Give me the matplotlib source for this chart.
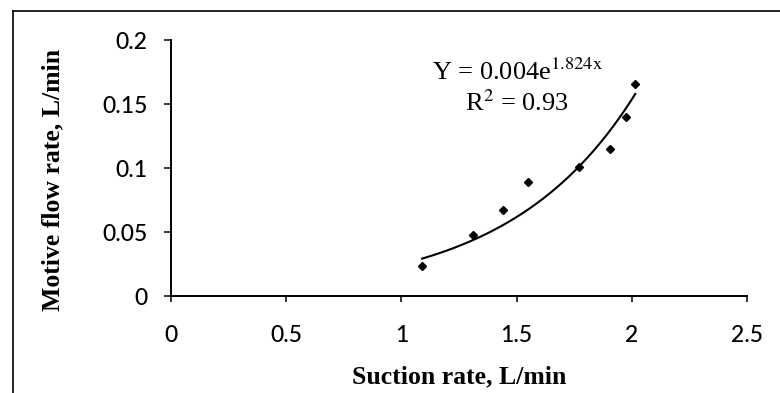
import numpy as np
import matplotlib.pyplot as plt
from matplotlib.lines import Line2D

# measured points
suction = [1.09, 1.31, 1.44, 1.55, 1.77, 1.905, 1.975, 2.015]
motive = [0.0235, 0.0475, 0.067, 0.089, 0.101, 0.115, 0.140, 0.1655]

# exponential fit Y = a*exp(b*x)
fit_a = 0.004
fit_b = 1.824
fit_r2 = 0.93

xticks = [0, 0.5, 1, 1.5, 2, 2.5]
xticklabels = ['0', '0.5', '1', '1.5', '2', '2.5']
yticks = [0, 0.05, 0.1, 0.15, 0.2]
yticklabels = ['0', '0.05', '0.1', '0.15', '0.2']

plt.rcParams['mathtext.fontset'] = 'stix'

fig = plt.figure(figsize=(7.8, 3.93), dpi=100)
ax = fig.add_axes([0.2192, 0.2468, 0.7385, 0.6514])

ax.plot(suction, motive, linestyle='none', marker='D', markersize=4.3,
        color='black')
xf = np.linspace(min(suction), max(suction), 200)
ax.plot(xf, fit_a * np.exp(fit_b * xf), color='black', linewidth=1.5)

ax.set_xlim(0, 2.5)
ax.set_ylim(0, 0.2)
ax.set_xticks(xticks)
ax.set_xticklabels(xticklabels, fontfamily='Lato', fontsize=16.5,
                   fontweight='medium')
ax.set_yticks(yticks)
ax.set_yticklabels(yticklabels, fontfamily='Lato', fontsize=16.5,
                   fontweight='medium')
ax.tick_params(axis='x', direction='out', length=4, width=1.1, pad=17)
ax.tick_params(axis='y', direction='out', length=5, width=1.1, pad=12)

for side in ['top', 'right']:
    ax.spines[side].set_visible(False)
for side in ['left', 'bottom']:
    ax.spines[side].set_linewidth(1.4)

ax.set_xlabel('Suction rate, L/min', fontfamily='Liberation Serif',
              fontweight='bold', fontsize=18.5)
ax.xaxis.set_label_coords(0.5, -0.27)
ax.set_ylabel('Motive flow rate, L/min', fontfamily='Liberation Serif',
              fontweight='bold', fontsize=18.5)
ax.yaxis.set_label_coords(-0.185, 0.455)

fig.text(518 / 780, 1 - 72 / 393,
         r'Y = %.3fe$^{\mathrm{%.3fx}}$' % (fit_a, fit_b),
         fontfamily='Liberation Serif', fontsize=19, ha='center', va='center')
fig.text(517 / 780, 1 - 103 / 393, r'R$^{\mathrm{2}}$ = %.2f' % fit_r2,
         fontfamily='Liberation Serif', fontsize=19, ha='center', va='center')

# page border lines
fig.add_artist(Line2D([13 / 780, 13 / 780], [0, 1 - 11 / 393],
                      transform=fig.transFigure, color='black', linewidth=1.2))
fig.add_artist(Line2D([13 / 780, 1], [1 - 11 / 393, 1 - 11 / 393],
                      transform=fig.transFigure, color='black', linewidth=1.2))

fig.savefig('out.png', dpi=100)
